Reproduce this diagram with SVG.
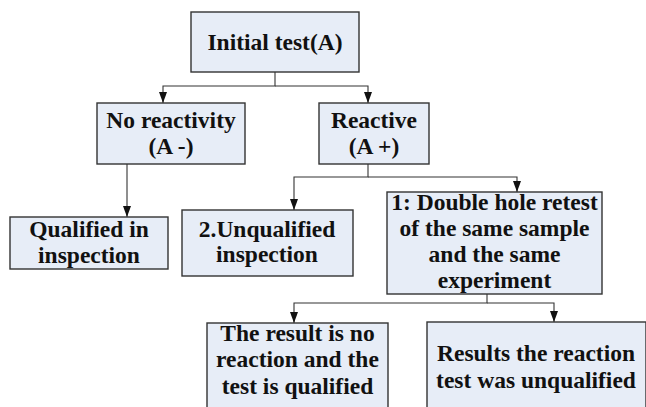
<svg xmlns="http://www.w3.org/2000/svg" width="646" height="407" viewBox="0 0 646 407">
<style>
.box{fill:#E7EDF7;stroke:#333;stroke-width:1.4}
.t{font-family:"Liberation Serif","Times New Roman",serif;font-weight:bold;font-size:23.5px;fill:#111;text-anchor:middle}
.c{fill:none;stroke:#333;stroke-width:1.1}
</style>
<defs>
<marker id="ah" markerUnits="userSpaceOnUse" markerWidth="11" markerHeight="8" refX="11" refY="4" orient="auto">
<path d="M0,0 L11,4 L0,8 z" fill="#111"/>
</marker>
</defs>
<rect width="646" height="407" fill="#fff"/>
<g id="connectors">
<path class="c" d="M275,72 V86 H163 V103" marker-end="url(#ah)"/>
<path class="c" d="M275,86 H368 V103" marker-end="url(#ah)"/>
<path class="c" d="M127,164 V217" marker-end="url(#ah)"/>
<path class="c" d="M368,164 V177 H294 V210" marker-end="url(#ah)"/>
<path class="c" d="M368,177 H517 V192" marker-end="url(#ah)"/>
<path class="c" d="M487,294 V303 H294 V323" marker-end="url(#ah)"/>
<path class="c" d="M487,303 H554 V322" marker-end="url(#ah)"/>
</g>
<g id="initial">
<rect class="box" x="191" y="12" width="168" height="60"/>
<text class="t" x="275" y="50">Initial test(A)</text>
</g>
<g id="noreact">
<rect class="box" x="97" y="103" width="148" height="61"/>
<text class="t" x="171" y="128">No reactivity</text>
<text class="t" x="171" y="154">(A -)</text>
</g>
<g id="reactive">
<rect class="box" x="319" y="103" width="110" height="61"/>
<text class="t" x="374" y="128">Reactive</text>
<text class="t" x="374" y="154">(A +)</text>
</g>
<g id="qualified">
<rect class="box" x="10" y="217" width="158" height="52"/>
<text class="t" x="89" y="237">Qualified in</text>
<text class="t" x="89" y="263">inspection</text>
</g>
<g id="unqualified">
<rect class="box" x="182" y="210" width="171" height="66"/>
<text class="t" x="267" y="237">2.Unqualified</text>
<text class="t" x="267" y="262">inspection</text>
</g>
<g id="retest">
<rect class="box" x="387" y="192" width="215" height="102"/>
<text class="t" x="494.5" y="210">1: Double hole retest</text>
<text class="t" x="494.5" y="236">of the same sample</text>
<text class="t" x="494.5" y="262">and the same</text>
<text class="t" x="494.5" y="288">experiment</text>
</g>
<g id="result-no">
<rect class="box" x="207" y="323" width="181" height="95"/>
<text class="t" x="297.5" y="341">The result is no</text>
<text class="t" x="297.5" y="367">reaction and the</text>
<text class="t" x="297.5" y="394">test is qualified</text>
</g>
<g id="result-yes">
<rect class="box" x="427" y="322" width="219" height="95"/>
<text class="t" x="536" y="361">Results the reaction</text>
<text class="t" x="536" y="388">test was unqualified</text>
</g>
</svg>
